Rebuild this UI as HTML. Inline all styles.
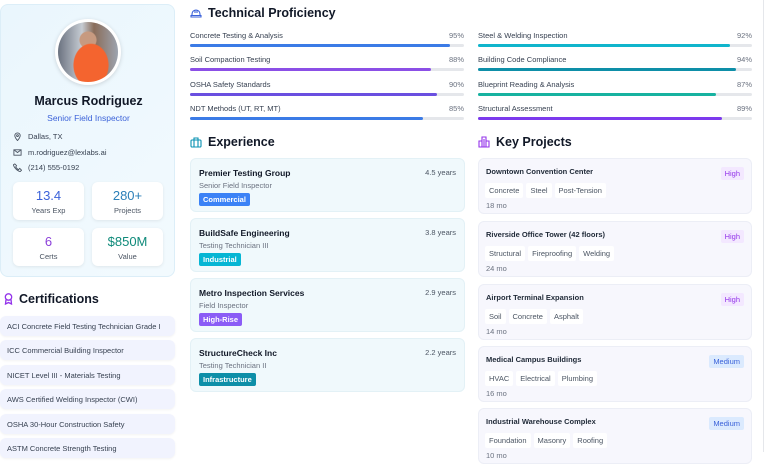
<!DOCTYPE html>
<html><head><meta charset="utf-8">
<style>
*{box-sizing:border-box;margin:0;padding:0}
body{width:768px;height:452px;overflow:hidden;background:#fff;font-family:"Liberation Sans",sans-serif;color:#1f2937;position:relative}
.abs{position:absolute}
.h{font-size:12.5px;font-weight:bold;color:#111827;display:flex;align-items:center;gap:6px}
.stat{position:absolute;width:71px;height:38px;background:#fff;border-radius:6px;box-shadow:0 1px 3px rgba(0,0,0,.08);text-align:center}
.stat b{display:block;font-weight:normal;font-size:13px;margin-top:6px}
.stat span{display:block;font-size:7.5px;color:#4b5563;margin-top:3px}
.cert{position:absolute;left:0;width:175px;height:20px;background:#f1f3fe;border-radius:6px;font-size:7.5px;color:#374151;padding:6px 0 0 7px;box-shadow:0 1px 2px rgba(0,0,0,.05)}
.sl{position:absolute;font-size:7.5px;color:#374151}
.sp{position:absolute;font-size:7.5px;color:#6b7280;text-align:right;width:30px}
.track{position:absolute;height:3px;background:#e5e7eb;border-radius:2px}
.fill{height:3px;border-radius:2px}
.exp{position:absolute;left:190px;width:275px;height:54px;background:#f0f9fc;border:1px solid #e3f1f6;border-radius:6px}
.exp .t{position:absolute;left:8px;top:9px;font-size:8.5px;font-weight:bold;color:#111827}
.exp .r{position:absolute;left:8px;top:22px;font-size:7.5px;color:#6b7280}
.exp .y{position:absolute;right:8px;top:9px;font-size:7.5px;color:#4b5563}
.exp .b{position:absolute;left:8px;top:34px;font-size:7.5px;color:#fff;padding:2px 4px;border-radius:2px;font-weight:bold}
.prj{position:absolute;left:478px;width:274px;height:56px;background:#f7f7fd;border:1px solid #eceef6;border-radius:6px}
.prj .t{position:absolute;left:7px;top:8px;font-size:7.5px;font-weight:bold;color:#1f2937}
.prj .p{position:absolute;right:7px;top:8px;font-size:7.5px;padding:2px 4px;border-radius:2px}
.prj .tags{position:absolute;left:6px;top:24px;display:flex;gap:3px}
.prj .tags span{background:#fff;font-size:7.5px;color:#4b5563;padding:3px 4px;border-radius:2px}
.prj .d{position:absolute;left:7px;top:42px;font-size:7.5px;color:#6b7280}
.ci{position:absolute;left:12px;font-size:7.5px;color:#374151;display:flex;align-items:center;gap:6px}
</style></head><body>

<div class="abs" style="left:0;top:4px;width:175px;height:273px;background:linear-gradient(135deg,#eaf6fd,#f2fafe);border:1px solid #dceef8;border-radius:8px">
 <div class="abs" style="left:54px;top:14px;width:66px;height:66px;border-radius:50%;background:#fff;padding:3px;box-shadow:0 1px 4px rgba(0,0,0,.15)">
  <div style="width:100%;height:100%;border-radius:50%;background:radial-gradient(ellipse 18px 22px at 55% 72%,#f4642f 0 95%,transparent 100%),radial-gradient(circle 9px at 50% 30%,#c79a80 0 90%,transparent 100%),linear-gradient(90deg,#6b7280,#c6ccd3 40%,#8a6d5a 60%,#9ca3af)"></div>
 </div>
 <div class="abs" style="left:0;width:175px;top:89px;text-align:center;font-size:12.5px;font-weight:bold;color:#111827">Marcus Rodriguez</div>
 <div class="abs" style="left:0;width:175px;top:108px;text-align:center;font-size:8.5px;color:#3b62d9">Senior Field Inspector</div>
 <div class="ci" style="top:127px"><svg width="9" height="9" viewBox="0 0 10 10"><path d="M5 9.5C2 6 2 5 2 4a3 3 0 0 1 6 0c0 1 0 2-3 5.5z" fill="none" stroke="#4b5563"/><circle cx="5" cy="4" r="1" fill="none" stroke="#4b5563"/></svg>Dallas, TX</div>
 <div class="ci" style="top:143px"><svg width="9" height="9" viewBox="0 0 10 10"><rect x="1" y="2" width="8" height="6" fill="none" stroke="#4b5563"/><path d="M1 2l4 3 4-3" fill="none" stroke="#4b5563"/></svg>m.rodriguez@lexlabs.ai</div>
 <div class="ci" style="top:158px"><svg width="9" height="9" viewBox="0 0 10 10"><path d="M2 1l2 2-1 1.5c1 1.5 1.5 2 3 3L7.5 6l2 2-1.5 1.5C5 9 1 5 .5 2z" fill="none" stroke="#4b5563"/></svg>(214) 555-0192</div>
 <div class="stat" style="left:12px;top:177px"><b style="color:#3b62d9">13.4</b><span>Years Exp</span></div>
 <div class="stat" style="left:91px;top:177px"><b style="color:#2b7fb8">280+</b><span>Projects</span></div>
 <div class="stat" style="left:12px;top:223px"><b style="color:#8b3fd9">6</b><span>Certs</span></div>
 <div class="stat" style="left:91px;top:223px"><b style="color:#0f8a7a">$850M</b><span>Value</span></div>
</div>

<div class="abs h" style="left:4px;top:292px"><svg width="9" height="12" viewBox="0 0 9 12"><circle cx="4.5" cy="4" r="3.2" fill="none" stroke="#9333ea" stroke-width="1.3"/><path d="M2 6.5L1.5 11 4.5 9.5 7.5 11 7 6.5" fill="none" stroke="#9333ea" stroke-width="1.3"/></svg>Certifications</div>
<div class="cert" style="top:316px">ACI Concrete Field Testing Technician Grade I</div>
<div class="cert" style="top:340px">ICC Commercial Building Inspector</div>
<div class="cert" style="top:365px">NICET Level III - Materials Testing</div>
<div class="cert" style="top:389px">AWS Certified Welding Inspector (CWI)</div>
<div class="cert" style="top:414px">OSHA 30-Hour Construction Safety</div>
<div class="cert" style="top:438px">ASTM Concrete Strength Testing</div>

<div class="abs h" style="left:190px;top:6px"><svg width="12" height="10" viewBox="0 0 12 10"><path d="M2 7V6a4 4 0 0 1 8 0v1M1 7.5h10v1.5H1zM5 2v3M7 2v3" fill="none" stroke="#3b62d9" stroke-width="1.1"/></svg>Technical Proficiency</div>
<div id="skills"></div>

<div class="abs h" style="left:190px;top:135px"><svg width="12" height="11" viewBox="0 0 12 11"><rect x="1" y="3" width="10" height="7" rx="1" fill="none" stroke="#0891b2" stroke-width="1.1"/><path d="M4 3V1h4v2M4 3v7M8 3v7" fill="none" stroke="#0891b2" stroke-width="1.1"/></svg>Experience</div>
<div class="exp" style="top:158px"><div class="t">Premier Testing Group</div><div class="r">Senior Field Inspector</div><div class="y">4.5 years</div><div class="b" style="background:#3b82f6">Commercial</div></div>
<div class="exp" style="top:218px"><div class="t">BuildSafe Engineering</div><div class="r">Testing Technician III</div><div class="y">3.8 years</div><div class="b" style="background:#06b6d4">Industrial</div></div>
<div class="exp" style="top:278px"><div class="t">Metro Inspection Services</div><div class="r">Field Inspector</div><div class="y">2.9 years</div><div class="b" style="background:#8b5cf6">High-Rise</div></div>
<div class="exp" style="top:338px"><div class="t">StructureCheck Inc</div><div class="r">Testing Technician II</div><div class="y">2.2 years</div><div class="b" style="background:#0e8fa8">Infrastructure</div></div>

<div class="abs h" style="left:478px;top:135px"><svg width="12" height="12" viewBox="0 0 12 12"><path d="M1 11V5h3V1h4v4h3v6zM4 5v6M8 5v6M6 3v8" fill="none" stroke="#9333ea" stroke-width="1.1"/></svg>Key Projects</div>
<div class="prj" style="top:158px"><div class="t">Downtown Convention Center</div><div class="p" style="background:#f3e8ff;color:#9333ea">High</div><div class="tags"><span>Concrete</span><span>Steel</span><span>Post-Tension</span></div><div class="d">18 mo</div></div>
<div class="prj" style="top:221px"><div class="t">Riverside Office Tower (42 floors)</div><div class="p" style="background:#f3e8ff;color:#9333ea">High</div><div class="tags"><span>Structural</span><span>Fireproofing</span><span>Welding</span></div><div class="d">24 mo</div></div>
<div class="prj" style="top:284px"><div class="t">Airport Terminal Expansion</div><div class="p" style="background:#f3e8ff;color:#9333ea">High</div><div class="tags"><span>Soil</span><span>Concrete</span><span>Asphalt</span></div><div class="d">14 mo</div></div>
<div class="prj" style="top:346px"><div class="t">Medical Campus Buildings</div><div class="p" style="background:#dbeafe;color:#3b62d9">Medium</div><div class="tags"><span>HVAC</span><span>Electrical</span><span>Plumbing</span></div><div class="d">16 mo</div></div>
<div class="prj" style="top:408px"><div class="t">Industrial Warehouse Complex</div><div class="p" style="background:#dbeafe;color:#3b62d9">Medium</div><div class="tags"><span>Foundation</span><span>Masonry</span><span>Roofing</span></div><div class="d">10 mo</div></div>
<div class="abs" style="left:763px;top:0;width:1px;height:452px;background:#e5e7eb"></div>

<script>
const skillNames=["Concrete Testing & Analysis","Soil Compaction Testing","OSHA Safety Standards","NDT Methods (UT, RT, MT)","Steel & Welding Inspection","Building Code Compliance","Blueprint Reading & Analysis","Structural Assessment"];
const skillValues=[95,88,90,85,92,94,87,89];
const skillColors=["#3b7be6","#8b4fe6","#6a4fe0","#3b7be6","#10b5cc","#0e8fa8","#17b2a0","#7c3aed"];
const root=document.getElementById('skills');
const colX=[190,478],barW=274,rowY=[31,55,80,104];
function xScale(v){return v/100*barW;}
skillNames.forEach((n,i)=>{
 const c=Math.floor(i/4),r=i%4,x=colX[c],y=rowY[r];
 const l=document.createElement('div');l.className='sl';l.style.left=x+'px';l.style.top=y+'px';l.textContent=n;
 
 
 root.appendChild(l);
 const p=document.createElement('div');p.className='sp';p.style.left=(x+barW-30)+'px';p.style.top=y+'px';p.textContent=skillValues[i]+'%';
 
 
 root.appendChild(p);
 const t=document.createElement('div');t.className='track';t.style.left=x+'px';t.style.top=(y+13)+'px';t.style.width=barW+'px';
 
 
 const f=document.createElement('div');f.className='fill';f.style.width=xScale(skillValues[i])+'px';f.style.background=skillColors[i];
 
 
 t.appendChild(f);root.appendChild(t);
});
</script>
</body></html>
